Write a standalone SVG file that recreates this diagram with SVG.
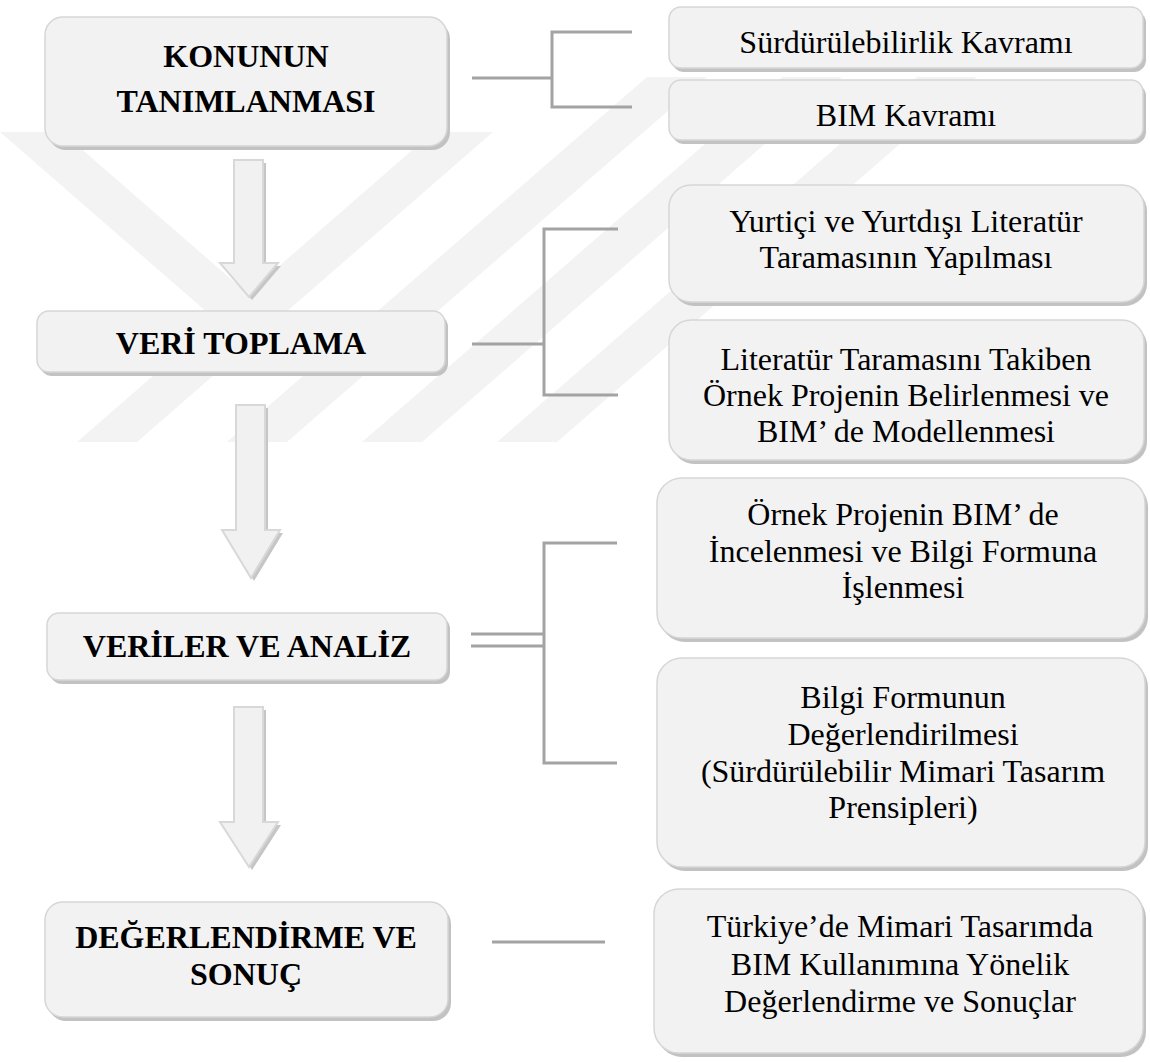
<svg xmlns="http://www.w3.org/2000/svg" width="1150" height="1062" viewBox="0 0 1150 1062">
  <style>
    .wm { fill: #f3f3f3; }
    .shadow { fill: #c2c2c2; }
    .box { fill: #f2f2f2; stroke: #d6d6d6; stroke-width: 1.5; }
    .head { font-family: 'Liberation Serif', serif; font-weight: bold; font-size: 32px; fill: #000; text-anchor: middle; }
    .item { font-family: 'Liberation Serif', serif; font-size: 32px; fill: #000; text-anchor: middle; }
    .link { fill: none; stroke: #a3a3a3; stroke-width: 3; }
    .arrow { fill: #f1f1f1; stroke: #d8d8d8; stroke-width: 2; }
    .arrow-shadow { fill: #c6c6c6; }
  </style>

  <rect width="1150" height="1062" fill="#ffffff"/>

  <!-- faint background emblem: one left arm joined to a set of slanted bars -->
  <g id="emblem">
    <polygon class="wm" points="0,132 62,132 278,320 216,320"/>
    <polygon class="wm" points="77,442 137,442 493,132 433,132"/>
    <polygon class="wm" points="227,442 287,442 707,77 647,77"/>
    <polygon class="wm" points="362,442 422,442 842,77 782,77"/>
    <polygon class="wm" points="497,442 557,442 977,77 917,77"/>
  </g>

  <!-- connectors -->
  <g id="connectors">
    <path class="link" d="M472,78 H552 M632,32 H552 V107 H632"/>
    <path class="link" d="M472,344 H544 M618,229 H544 V395 H618"/>
    <path class="link" d="M471,634 H544 M471,646 H544 M617,543 H544 V763 H617"/>
    <path class="link" d="M492,942 H605"/>
  </g>

  <!-- block arrows between stages -->
  <g id="arrow-1">
    <path class="arrow-shadow" transform="translate(3,3)" d="M234,160 H263 V263 H278 L249,297 L220,263 H234 Z"/>
    <path class="arrow" d="M234,160 H263 V263 H278 L249,297 L220,263 H234 Z"/>
  </g>
  <g id="arrow-2">
    <path class="arrow-shadow" transform="translate(3,3)" d="M236,405 H265 V530 H280 L251,578 L222,530 H236 Z"/>
    <path class="arrow" d="M236,405 H265 V530 H280 L251,578 L222,530 H236 Z"/>
  </g>
  <g id="arrow-3">
    <path class="arrow-shadow" transform="translate(3,3)" d="M234,707 H263 V822 H278 L249,867 L220,822 H234 Z"/>
    <path class="arrow" d="M234,707 H263 V822 H278 L249,867 L220,822 H234 Z"/>
  </g>

  <!-- stage boxes -->
  <g id="stage-konu">
    <rect class="shadow" x="48" y="21" width="402" height="129" rx="18"/>
    <rect class="box" x="45" y="17" width="402" height="129" rx="18"/>
    <text class="head" x="246" y="67">KONUNUN</text>
    <text class="head" x="246" y="112">TANIMLANMASI</text>
  </g>
  <g id="stage-veri">
    <rect class="shadow" x="40" y="315" width="408" height="61" rx="12"/>
    <rect class="box" x="37" y="311" width="408" height="61" rx="12"/>
    <text class="head" x="241" y="354">VERİ TOPLAMA</text>
  </g>
  <g id="stage-analiz">
    <rect class="shadow" x="50" y="617" width="400" height="67" rx="12"/>
    <rect class="box" x="47" y="613" width="400" height="67" rx="12"/>
    <text class="head" x="247" y="657">VERİLER VE ANALİZ</text>
  </g>
  <g id="stage-sonuc">
    <rect class="shadow" x="48" y="906" width="403" height="115" rx="18"/>
    <rect class="box" x="45" y="902" width="403" height="115" rx="18"/>
    <text class="head" x="246" y="948">DEĞERLENDİRME VE</text>
    <text class="head" x="246" y="985">SONUÇ</text>
  </g>

  <!-- detail boxes -->
  <g id="item-surdurulebilirlik">
    <rect class="shadow" x="672" y="11" width="474" height="61" rx="12"/>
    <rect class="box" x="669" y="7" width="474" height="61" rx="12"/>
    <text class="item" x="906" y="53">Sürdürülebilirlik Kavramı</text>
  </g>
  <g id="item-bim">
    <rect class="shadow" x="672" y="84" width="474" height="60" rx="12"/>
    <rect class="box" x="669" y="80" width="474" height="60" rx="12"/>
    <text class="item" x="906" y="126">BIM Kavramı</text>
  </g>
  <g id="item-literatur">
    <rect class="shadow" x="672" y="189" width="475" height="117" rx="22"/>
    <rect class="box" x="669" y="185" width="475" height="117" rx="22"/>
    <text class="item" x="906" y="232">Yurtiçi ve Yurtdışı Literatür</text>
    <text class="item" x="906" y="268">Taramasının Yapılması</text>
  </g>
  <g id="item-ornek-proje">
    <rect class="shadow" x="672" y="324" width="475" height="140" rx="22"/>
    <rect class="box" x="669" y="320" width="475" height="140" rx="22"/>
    <text class="item" x="906" y="370">Literatür Taramasını Takiben</text>
    <text class="item" x="906" y="406">Örnek Projenin Belirlenmesi ve</text>
    <text class="item" x="906" y="442">BIM’ de Modellenmesi</text>
  </g>
  <g id="item-inceleme">
    <rect class="shadow" x="660" y="482" width="488" height="160" rx="25"/>
    <rect class="box" x="657" y="478" width="488" height="160" rx="25"/>
    <text class="item" x="903" y="525">Örnek Projenin BIM’ de</text>
    <text class="item" x="903" y="562">İncelenmesi ve Bilgi Formuna</text>
    <text class="item" x="903" y="598">İşlenmesi</text>
  </g>
  <g id="item-degerlendirme">
    <rect class="shadow" x="660" y="662" width="488" height="209" rx="25"/>
    <rect class="box" x="657" y="658" width="488" height="209" rx="25"/>
    <text class="item" x="903" y="708">Bilgi Formunun</text>
    <text class="item" x="903" y="745">Değerlendirilmesi</text>
    <text class="item" x="903" y="782">(Sürdürülebilir Mimari Tasarım</text>
    <text class="item" x="903" y="818">Prensipleri)</text>
  </g>
  <g id="item-sonuclar">
    <rect class="shadow" x="657" y="893" width="489" height="164" rx="25"/>
    <rect class="box" x="654" y="889" width="489" height="164" rx="25"/>
    <text class="item" x="900" y="937">Türkiye’de Mimari Tasarımda</text>
    <text class="item" x="900" y="975">BIM Kullanımına Yönelik</text>
    <text class="item" x="900" y="1012">Değerlendirme ve Sonuçlar</text>
  </g>
</svg>
